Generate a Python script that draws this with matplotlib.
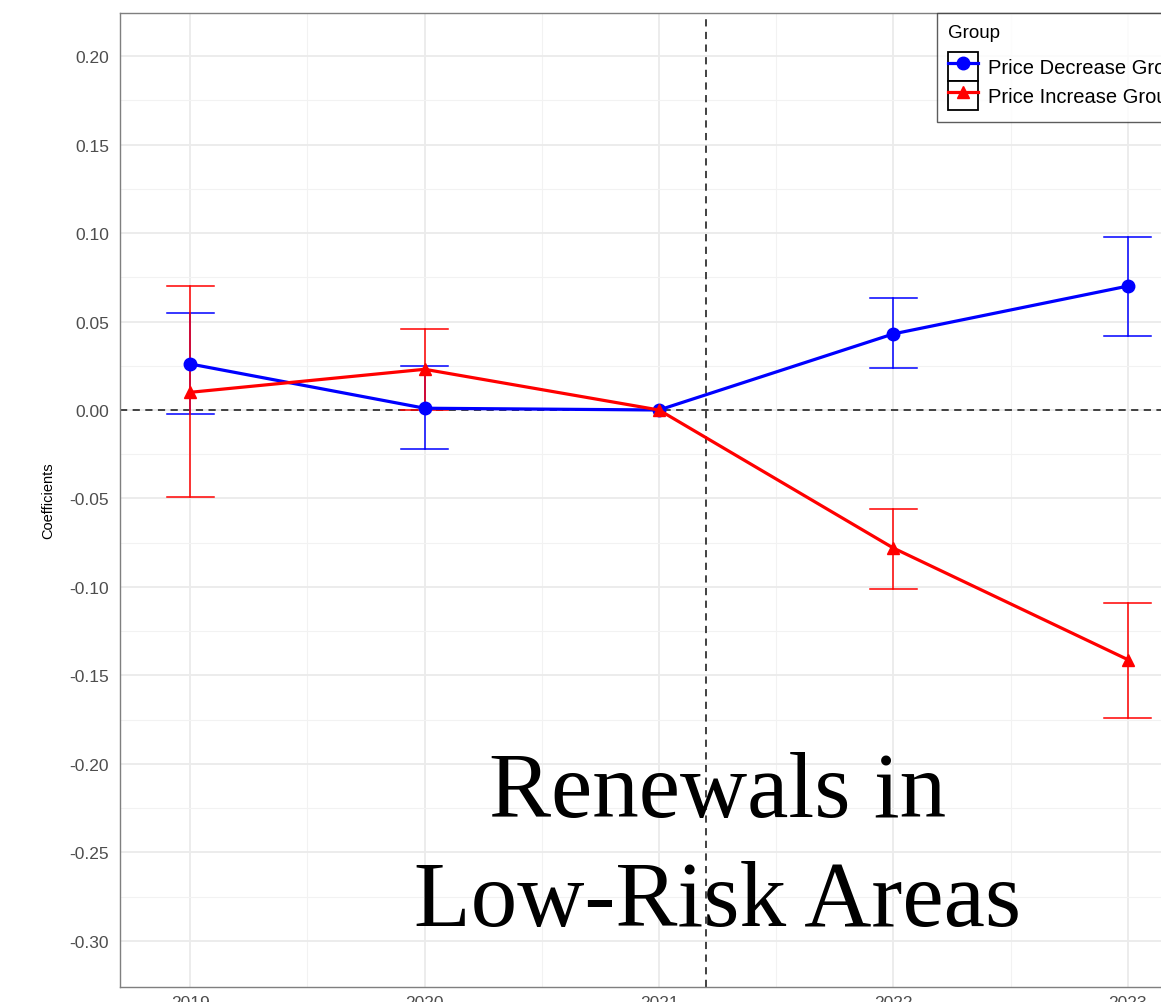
import matplotlib
matplotlib.use("Agg")
import matplotlib.pyplot as plt
from matplotlib.lines import Line2D
from matplotlib.patches import Rectangle
from matplotlib.legend_handler import HandlerTuple

plt.rcParams["font.family"] = ["Liberation Sans", "DejaVu Sans"]

YEARS = [2019, 2020, 2021, 2022, 2023]

DEC_COEF = [0.026, 0.001, 0.0, 0.043, 0.070]
DEC_LOW = [-0.002, -0.022, None, 0.024, 0.042]
DEC_HIGH = [0.055, 0.025, None, 0.063, 0.098]

INC_COEF = [0.010, 0.023, 0.0, -0.078, -0.141]
INC_LOW = [-0.049, 0.000, None, -0.101, -0.174]
INC_HIGH = [0.070, 0.046, None, -0.056, -0.109]

GROUPS = ["Price Decrease Group", "Price Increase Group"]
COLORS = ["blue", "red"]
MARKERS = ["o", "^"]

Y_TICKS = [0.20, 0.15, 0.10, 0.05, 0.00, -0.05, -0.10, -0.15, -0.20, -0.25, -0.30]
TREAT_X = 2021.2


def draw_series(ax, coef, low, high, color, marker):
    for x, lo, hi in zip(YEARS, low, high):
        if lo is None:
            continue
        ax.plot([x, x], [lo, hi], color=color, lw=1.1, zorder=3)
        ax.plot([x - 0.1, x + 0.1], [lo, lo], color=color, lw=1.1, zorder=3)
        ax.plot([x - 0.1, x + 0.1], [hi, hi], color=color, lw=1.1, zorder=3)
    ax.plot(YEARS, coef, color=color, lw=2.3, marker=marker, ms=9, zorder=4)


fig = plt.figure(figsize=(11.61, 10.03), dpi=100)
ax = fig.add_axes([120 / 1161, 15 / 1003, 1078 / 1161, 974 / 1003])

ax.set_xlim(2018.7, 2023.3)
ax.set_ylim(-0.326, 0.2243)

ax.set_yticks(Y_TICKS)
ax.set_yticklabels([f"{v:.2f}" for v in Y_TICKS])
ax.set_yticks([v + 0.025 for v in Y_TICKS[1:]], minor=True)
ax.set_xticks(YEARS)
ax.set_xticklabels([str(y) for y in YEARS])
ax.set_xticks([y + 0.5 for y in YEARS[:-1]], minor=True)

ax.grid(True, which="major", color="#EBEBEB", lw=1.3, zorder=0)
ax.grid(True, which="minor", color="#F2F2F2", lw=0.8, zorder=0)
ax.set_axisbelow(True)
ax.tick_params(which="both", length=0)
ax.tick_params(axis="y", pad=8, labelsize=12.5, labelcolor="#4D4D4D")
ax.tick_params(axis="x", pad=6, labelsize=12.5, labelcolor="#4D4D4D")
for s in ax.spines.values():
    s.set_color("#7F7F7F")
    s.set_linewidth(1.0)

ax.axhline(0, color="#333333", lw=1.3, ls=(0, (4, 3)), zorder=2)
ax.axvline(TREAT_X, color="#333333", lw=1.3, ls=(0, (4, 3)), zorder=2)

draw_series(ax, DEC_COEF, DEC_LOW, DEC_HIGH, COLORS[0], MARKERS[0])
draw_series(ax, INC_COEF, INC_LOW, INC_HIGH, COLORS[1], MARKERS[1])

ax.set_ylabel("Coefficients", fontsize=10.5, labelpad=10)

ax.text(TREAT_X + 0.05, -0.2475, "Renewals in\nLow-Risk Areas",
        family=["Liberation Serif", "DejaVu Serif"], fontsize=67,
        ha="center", va="center", linespacing=1.38, zorder=5)

handles = []
for c, m in zip(COLORS, MARKERS):
    box = Rectangle((0, 0), 1, 1, facecolor="white", edgecolor="black", lw=1.3)
    ln = Line2D([], [], color=c, lw=2.3, marker=m, ms=9)
    handles.append((box, ln))
leg = fig.legend(handles, GROUPS, title="Group", loc="upper left",
                 bbox_to_anchor=(937 / 1161, 1 - 14 / 1003),
                 handler_map={tuple: HandlerTuple(ndivide=1, pad=0)},
                 fontsize=14.5, title_fontsize=13.5, frameon=True, fancybox=False,
                 handlelength=1.5, handleheight=1.85, handletextpad=0.5,
                 labelspacing=0.0, borderpad=0.55, borderaxespad=0)
leg._legend_box.align = "left"
leg._legend_box.sep = 8
leg.get_frame().set_edgecolor("#333333")
leg.get_frame().set_linewidth(1.0)

fig.savefig("out.png", dpi=100)
